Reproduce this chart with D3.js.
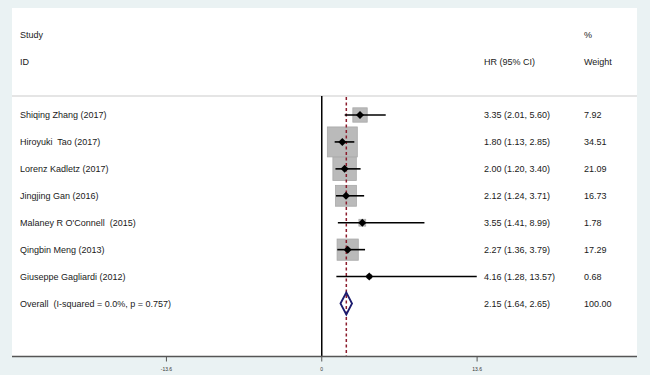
<!DOCTYPE html>
<html>
<head>
<meta charset="utf-8">
<script src="https://cdn.jsdelivr.net/npm/d3@7"></script>
<style>
  body { margin: 0; background: #eaf2f3; }
  svg text { font-family: "Liberation Sans", Arial, sans-serif; white-space: pre; }
</style>
</head>
<body>
<div id="chart"></div>
<script>
// study rows
var studies = ["Shiqing Zhang (2017)", "Hiroyuki  Tao (2017)", "Lorenz Kadletz (2017)",
  "Jingjing Gan (2016)", "Malaney R O'Connell  (2015)", "Qingbin Meng (2013)",
  "Giuseppe Gagliardi (2012)"];
var hr = [3.35, 1.80, 2.00, 2.12, 3.55, 2.27, 4.16];
var lower = [2.01, 1.13, 1.20, 1.24, 1.41, 1.36, 1.28];
var upper = [5.60, 2.85, 3.40, 3.71, 8.99, 3.79, 13.57];
var weights = [7.92, 34.51, 21.09, 16.73, 1.78, 17.29, 0.68];

// pooled estimate
var overallLabel = "Overall  (I-squared = 0.0%, p = 0.757)";
var overallHR = 2.15, overallLo = 1.64, overallHi = 2.65, overallWeight = 100.00;

var tickValues = [-13.6, 0, 13.6];

var width = 650, height = 375;

var svg = d3.select("#chart")
  .append("svg")
  .attr("width", width)
  .attr("height", height);

// white plot panel
svg.append("rect")
  .attr("x", 12).attr("y", 8)
  .attr("width", 625).attr("height", 349)
  .attr("fill", "white");

var x = d3.scaleLinear()
  .domain([-27.12, 27.6])
  .range([12, 637]);

var y = d3.scaleLinear()
  .domain([0, 7])
  .range([115, 303.5]);

var rows = studies.map(function(s, i) {
  return { name: s, hr: hr[i], lo: lower[i], hi: upper[i], w: weights[i], i: i };
});

// headers
var header = svg.append("g").attr("font-size", 9).attr("fill", "#1a1a1a");
header.append("text").attr("x", 20).attr("y", 35).attr("dy", "0.35em").text("Study");
header.append("text").attr("x", 20).attr("y", 62).attr("dy", "0.35em").text("ID");
header.append("text").attr("x", 484).attr("y", 62).attr("dy", "0.35em").text("HR (95% CI)");
header.append("text").attr("x", 584).attr("y", 35).attr("dy", "0.35em").text("%");
header.append("text").attr("x", 584).attr("y", 62).attr("dy", "0.35em").text("Weight");

// separator under headers
svg.append("line")
  .attr("x1", 12).attr("x2", 637)
  .attr("y1", 96).attr("y2", 96)
  .attr("stroke", "#dcdcdc")
  .attr("stroke-width", 1.5);

// weight boxes
svg.selectAll(".box")
  .data(rows)
  .enter()
  .append("rect")
  .attr("class", "box")
  .attr("x", d => x(d.hr) - 2.55 * Math.sqrt(d.w))
  .attr("y", d => y(d.i) - 2.55 * Math.sqrt(d.w))
  .attr("width", d => 5.1 * Math.sqrt(d.w))
  .attr("height", d => 5.1 * Math.sqrt(d.w))
  .attr("fill", "#bababa")
  .attr("stroke", "#a8a8a8")
  .attr("stroke-width", 0.8);

// no-effect line at 0
svg.append("line")
  .attr("x1", x(0)).attr("x2", x(0))
  .attr("y1", 96).attr("y2", 356)
  .attr("stroke", "black")
  .attr("stroke-width", 1.5);

// dashed line at overall estimate
svg.append("line")
  .attr("x1", x(overallHR)).attr("x2", x(overallHR))
  .attr("y1", 97).attr("y2", 356)
  .attr("stroke", "#8b1c2c")
  .attr("stroke-width", 1.5)
  .attr("stroke-dasharray", "3,2.5");

// confidence intervals
svg.selectAll(".ci")
  .data(rows)
  .enter()
  .append("line")
  .attr("class", "ci")
  .attr("x1", d => x(d.lo)).attr("x2", d => x(d.hi))
  .attr("y1", d => y(d.i)).attr("y2", d => y(d.i))
  .attr("stroke", "black")
  .attr("stroke-width", 1.6);

// point estimates
svg.selectAll(".pt")
  .data(rows)
  .enter()
  .append("path")
  .attr("class", "pt")
  .attr("d", function(d) {
    var cx = x(d.hr), cy = y(d.i), r = 4;
    return "M" + (cx - r) + "," + cy + "L" + cx + "," + (cy - r) +
      "L" + (cx + r) + "," + cy + "L" + cx + "," + (cy + r) + "Z";
  })
  .attr("fill", "black");

// overall diamond
var oy = y(7);
svg.append("path")
  .attr("d", "M" + x(overallLo) + "," + oy + "L" + x(overallHR) + "," + (oy - 11) +
    "L" + x(overallHi) + "," + oy + "L" + x(overallHR) + "," + (oy + 11) + "Z")
  .attr("fill", "none")
  .attr("stroke", "#1b1b6e")
  .attr("stroke-width", 1.8);

// row labels and numbers
var labels = svg.append("g").attr("font-size", 9).attr("fill", "#1a1a1a");
var allRows = rows.concat([{ name: overallLabel, hr: overallHR, lo: overallLo, hi: overallHi, w: overallWeight, i: 7 }]);

labels.selectAll(".name")
  .data(allRows)
  .enter()
  .append("text")
  .attr("x", 20)
  .attr("y", d => y(d.i))
  .attr("dy", "0.35em")
  .text(d => d.name);

labels.selectAll(".est")
  .data(allRows)
  .enter()
  .append("text")
  .attr("x", 484)
  .attr("y", d => y(d.i))
  .attr("dy", "0.35em")
  .text(d => d.hr.toFixed(2) + " (" + d.lo.toFixed(2) + ", " + d.hi.toFixed(2) + ")");

labels.selectAll(".wt")
  .data(allRows)
  .enter()
  .append("text")
  .attr("x", 584)
  .attr("y", d => y(d.i))
  .attr("dy", "0.35em")
  .text(d => d.w.toFixed(2));

// x axis
svg.append("line")
  .attr("x1", 12).attr("x2", 637)
  .attr("y1", 356.5).attr("y2", 356.5)
  .attr("stroke", "#555")
  .attr("stroke-width", 1.6);

var ticks = svg.append("g");
ticks.selectAll("line")
  .data(tickValues)
  .enter()
  .append("line")
  .attr("x1", d => x(d)).attr("x2", d => x(d))
  .attr("y1", 357).attr("y2", 361.5)
  .attr("stroke", "#555")
  .attr("stroke-width", 1);

ticks.selectAll("text")
  .data(tickValues)
  .enter()
  .append("text")
  .attr("x", d => x(d))
  .attr("y", 369)
  .attr("dy", "0.35em")
  .attr("text-anchor", "middle")
  .attr("font-size", 5)
  .attr("fill", "#333")
  .text(d => d);
</script>
</body>
</html>
